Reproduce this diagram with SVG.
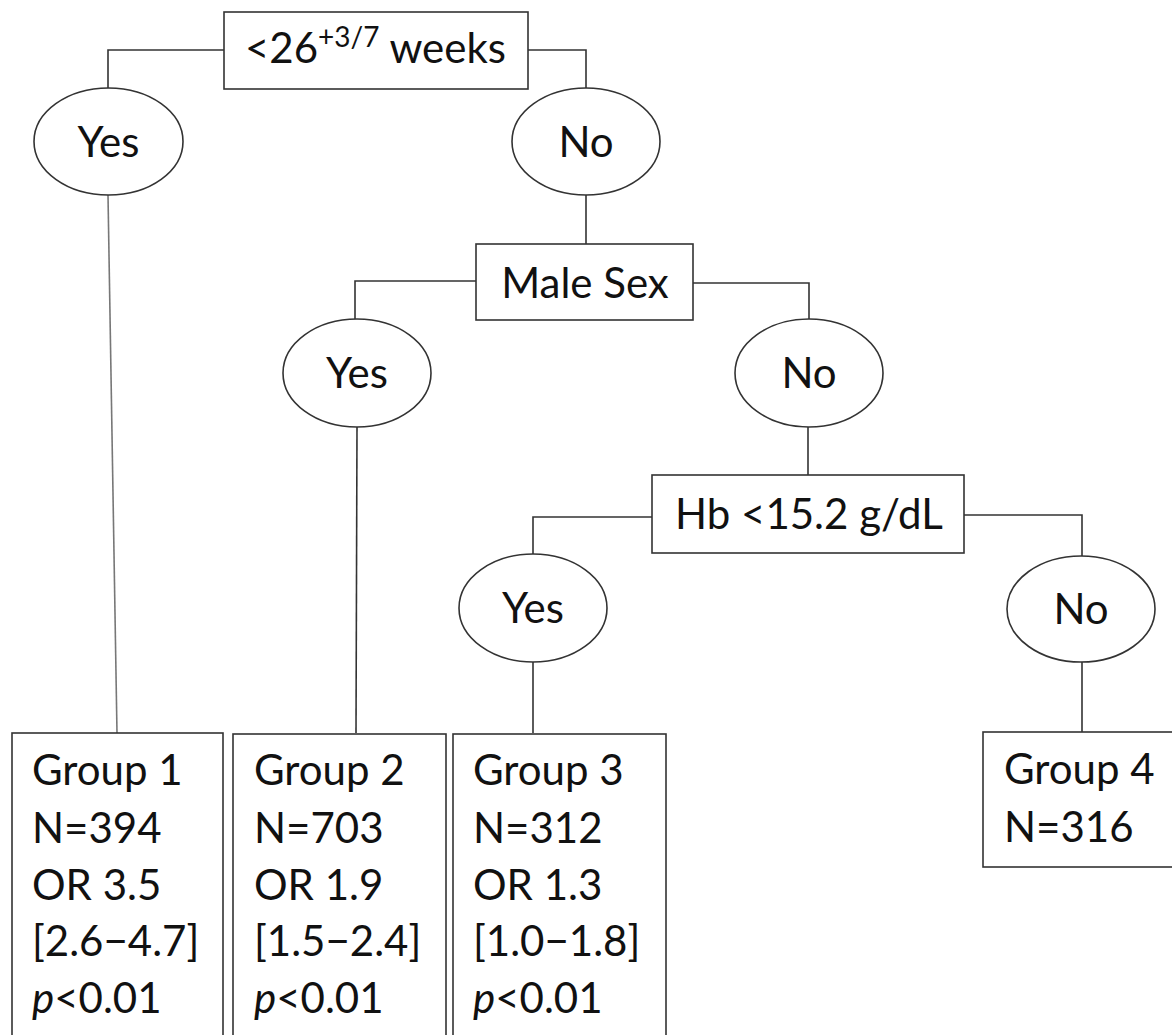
<svg xmlns="http://www.w3.org/2000/svg" width="1172" height="1035" viewBox="0 0 1172 1035">
<style>
.box{fill:#fff;stroke:#333;stroke-width:1.6}
.ell{fill:#fff;stroke:#333;stroke-width:1.6}
.ln{fill:none;stroke:#333;stroke-width:1.6}
.t{font-family:Lato,"Open Sans","Liberation Sans",sans-serif;font-size:42px;fill:#111}
.c{text-anchor:middle}
</style>
<rect width="1172" height="1035" fill="#fff"/>
<g id="connectors">
<polyline class="ln" points="224,50 108,50 108,88"/>
<polyline class="ln" points="528,50 586,50 586,88"/>
<line class="ln" x1="108" y1="195" x2="117" y2="733" style="stroke:#777"/>
<line class="ln" x1="586" y1="195" x2="586" y2="244"/>
<polyline class="ln" points="476,281 355,281 355,319"/>
<polyline class="ln" points="693,283 809,283 809,319"/>
<line class="ln" x1="357" y1="427" x2="356" y2="733"/>
<line class="ln" x1="808" y1="427" x2="808" y2="475"/>
<polyline class="ln" points="652,517 533,517 533,554"/>
<polyline class="ln" points="964,515 1082,515 1082,556"/>
<line class="ln" x1="533" y1="662" x2="533" y2="733"/>
<line class="ln" x1="1082" y1="662" x2="1082" y2="732"/>
</g>
<g id="n-weeks">
<rect class="box" x="224" y="12" width="304" height="77"/>
<text class="t" x="245" y="63">&lt;26<tspan font-size="28" dy="-16">+3/7</tspan><tspan dy="16"> weeks</tspan></text>
</g>
<g id="n-yes1">
<ellipse class="ell" cx="108.5" cy="141.5" rx="74.5" ry="53.5"/>
<text class="t c" x="108.5" y="157">Yes</text>
</g>
<g id="n-no1">
<ellipse class="ell" cx="586" cy="141.5" rx="74" ry="53.5"/>
<text class="t c" x="586" y="157">No</text>
</g>
<g id="n-male">
<rect class="box" x="476" y="244" width="217" height="76"/>
<text class="t c" x="585" y="298">Male Sex</text>
</g>
<g id="n-yes2">
<ellipse class="ell" cx="357" cy="373" rx="74" ry="54"/>
<text class="t c" x="357" y="388">Yes</text>
</g>
<g id="n-no2">
<ellipse class="ell" cx="809" cy="373" rx="74" ry="54"/>
<text class="t c" x="809" y="388">No</text>
</g>
<g id="n-hb">
<rect class="box" x="652" y="475" width="312" height="78"/>
<text class="t" x="675" y="529">Hb &lt;15.2 g/dL</text>
</g>
<g id="n-yes3">
<ellipse class="ell" cx="533" cy="608" rx="74" ry="54"/>
<text class="t c" x="533" y="623">Yes</text>
</g>
<g id="n-no3">
<ellipse class="ell" cx="1081" cy="609" rx="74" ry="53"/>
<text class="t c" x="1081" y="624">No</text>
</g>
<g id="n-group1">
<rect class="box" x="12" y="733" width="211" height="320"/>
<text class="t" x="32" y="785">Group 1</text>
<text class="t" x="32" y="843">N=394</text>
<text class="t" x="32" y="900">OR 3.5</text>
<text class="t" x="32" y="956">[2.6−4.7]</text>
<text class="t" x="32" y="1013"><tspan font-style="italic">p</tspan>&lt;0.01</text>
</g>
<g id="n-group2">
<rect class="box" x="233" y="734" width="213" height="320"/>
<text class="t" x="254" y="785">Group 2</text>
<text class="t" x="254" y="843">N=703</text>
<text class="t" x="254" y="900">OR 1.9</text>
<text class="t" x="254" y="956">[1.5−2.4]</text>
<text class="t" x="254" y="1013"><tspan font-style="italic">p</tspan>&lt;0.01</text>
</g>
<g id="n-group3">
<rect class="box" x="453" y="734" width="213" height="320"/>
<text class="t" x="473" y="785">Group 3</text>
<text class="t" x="473" y="843">N=312</text>
<text class="t" x="473" y="900">OR 1.3</text>
<text class="t" x="473" y="956">[1.0−1.8]</text>
<text class="t" x="473" y="1013"><tspan font-style="italic">p</tspan>&lt;0.01</text>
</g>
<g id="n-group4">
<rect class="box" x="983" y="732" width="200" height="135"/>
<text class="t" x="1004" y="784">Group 4</text>
<text class="t" x="1004" y="842">N=316</text>
</g>
</svg>
